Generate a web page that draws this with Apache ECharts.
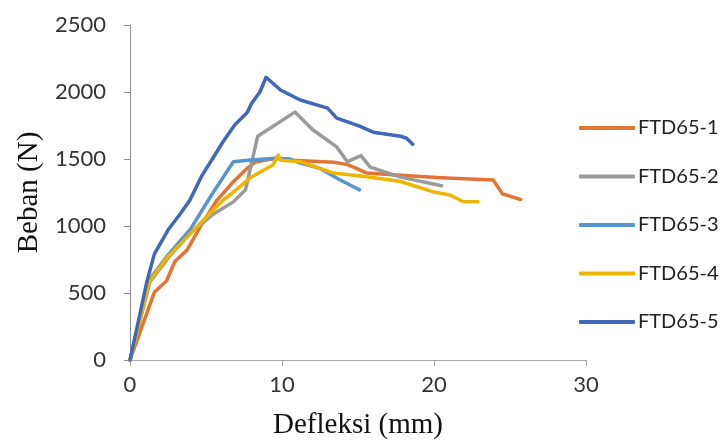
<!DOCTYPE html>
<html>
<head>
<meta charset="utf-8">
<script src="https://cdn.jsdelivr.net/npm/echarts@6/dist/echarts.min.js"></script>
<style>
  html, body { margin: 0; padding: 0; background: #fff; }
  #chart { width: 726px; height: 441px; }
</style>
</head>
<body>
<div id="chart"></div>
<script>
// nama seri
var seriesNames = ['FTD65-1', 'FTD65-2', 'FTD65-3', 'FTD65-4', 'FTD65-5'];

// data [defleksi (mm), beban (N)]
var ftd1 = [[0,0],[1.6,505],[2.4,590],[2.95,735],[3.75,820],[4.6,990],[5.7,1190],[6.8,1330],[7.7,1430],[8.3,1480],[9.65,1505],[10.7,1490],[13.4,1475],[14.3,1458],[14.7,1440],[15.6,1395],[17.5,1380],[20.8,1358],[23.9,1343],[24.5,1240],[25.7,1198]];
var ftd2 = [[0,0],[1.3,580],[2.5,760],[4.0,950],[5.5,1090],[6.8,1180],[7.6,1270],[8.4,1670],[10.85,1850],[12.0,1720],[13.6,1590],[14.3,1480],[15.2,1525],[15.8,1440],[17.8,1365],[20.5,1300]];
var ftd3 = [[0,0],[1.3,600],[2.4,770],[4.0,980],[5.3,1220],[6.8,1480],[7.9,1493],[9.6,1505],[10.5,1500],[11.2,1470],[12.5,1430],[13.8,1345],[15.1,1270]];
var ftd4 = [[0,0],[1.3,590],[2.4,760],[3.6,900],[4.4,995],[6.1,1190],[7.2,1290],[7.9,1360],[9.4,1455],[9.75,1530],[9.9,1490],[11.2,1480],[13.4,1395],[15.6,1368],[17.8,1332],[19.9,1256],[21.05,1231],[21.9,1183],[22.9,1181]];
var ftd5 = [[0,0],[1.1,580],[1.6,790],[2.5,970],[3.3,1090],[3.95,1195],[4.7,1370],[5.5,1515],[6.1,1625],[6.9,1755],[7.7,1845],[8.0,1915],[8.55,2000],[8.95,2110],[9.9,2015],[11.2,1940],[13.0,1880],[13.6,1805],[14.5,1770],[15.1,1745],[16.0,1700],[17.8,1670],[18.2,1655],[18.6,1610]];

var xTicks = [0, 10, 20, 30];
var yTicks = [0, 500, 1000, 1500, 2000, 2500];

var colors = ['#E27434', '#9A9A9A', '#5895CF', '#EDB400', '#3F69B8'];
var allData = [ftd1, ftd2, ftd3, ftd4, ftd5];

var chart = echarts.init(document.getElementById('chart'));

var series = [];
for (var i = 0; i < seriesNames.length; i++) {
	series.push({
		name: seriesNames[i],
		type: 'line',
		data: allData[i],
		showSymbol: false,
		symbol: 'none',
		smooth: false,
		lineStyle: { width: 3.5, color: colors[i], cap: 'round', join: 'round' },
		itemStyle: { color: colors[i] },
		z: 2 + i
	});
}

var option = {
	animation: false,
	backgroundColor: '#fff',
	color: colors,
	grid: {
		left: 130, right: 140, top: 25, bottom: 81,
		containLabel: false,
		outerBoundsMode: 'none'
	},
	legend: {
		orient: 'vertical',
		left: 574,
		top: 111,
		icon: 'roundRect',
		itemWidth: 56,
		itemHeight: 4,
		itemGap: 24.5,
		data: seriesNames,
		textStyle: { fontFamily: 'Lato', fontSize: 20, lineHeight: 24, color: '#222', padding: [0, 0, 0, -2] }
	},
	xAxis: {
		type: 'value',
		min: xTicks[0],
		max: xTicks[xTicks.length - 1],
		interval: 10,
		name: 'Defleksi (mm)',
		nameLocation: 'middle',
		nameGap: 51,
		nameTextStyle: { fontFamily: 'Liberation Serif', fontSize: 29, color: '#111' },
		axisLine: { show: true, lineStyle: { color: '#a6a6a6', width: 1 } },
		axisTick: { show: true, inside: false, length: 6, lineStyle: { color: '#a6a6a6' } },
		axisLabel: { margin: 14, fontFamily: 'Lato', fontSize: 22, color: '#333', formatter: function (v) { return String(v); } },
		splitLine: { show: false }
	},
	yAxis: {
		type: 'value',
		min: yTicks[0],
		max: yTicks[yTicks.length - 1],
		interval: 500,
		name: 'Beban (N)',
		nameLocation: 'middle',
		nameGap: 82,
		nameTextStyle: { fontFamily: 'Liberation Serif', fontSize: 29, color: '#111' },
		axisLine: { show: true, lineStyle: { color: '#8c8c8c', width: 1 } },
		axisTick: { show: true, inside: false, length: 6, lineStyle: { color: '#8c8c8c' } },
		axisLabel: { margin: 24, fontFamily: 'Lato', fontSize: 22, color: '#333', formatter: function (v) { return String(v); } },
		splitLine: { show: false }
	},
	series: series
};

chart.setOption(option);
</script>
</body>
</html>
